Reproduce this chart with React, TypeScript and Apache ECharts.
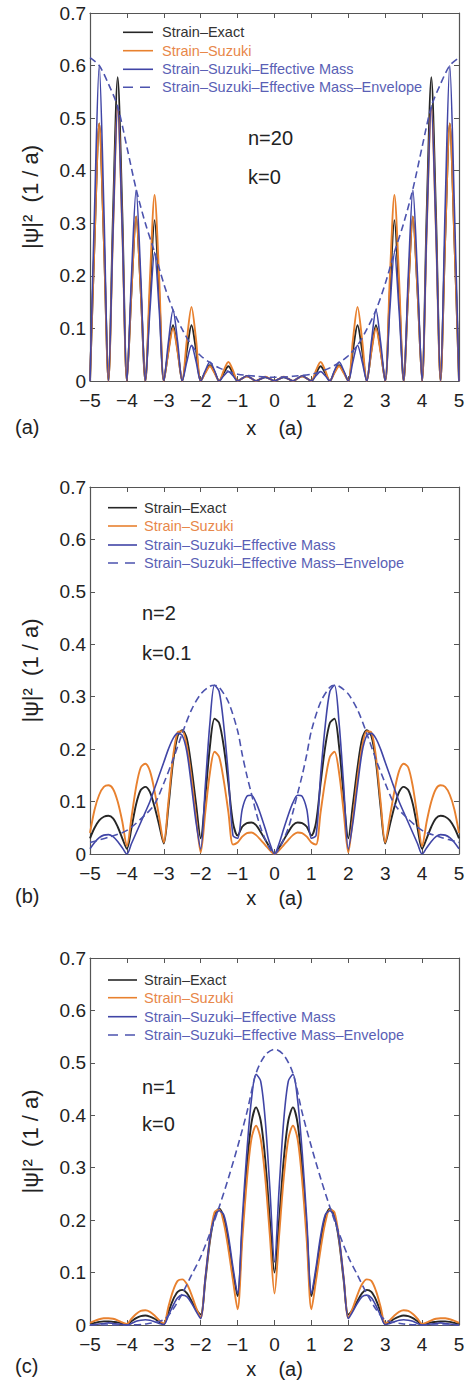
import React, { useEffect, useRef } from "react";
import * as echarts from "echarts";

// ---------- shared x grid (x in units of a) ----------
const X_GRID = [
  -5, -4.875, -4.75, -4.625, -4.5, -4.375, -4.25, -4.125, -4, -3.875, -3.75, -3.625, -3.5, -3.375, -3.25, -3.125,
  -3, -2.875, -2.75, -2.625, -2.5, -2.375, -2.25, -2.125, -2, -1.875, -1.75, -1.625, -1.5, -1.375, -1.25, -1.125,
  -1, -0.875, -0.75, -0.625, -0.5, -0.375, -0.25, -0.125, 0, 0.125, 0.25, 0.375, 0.5, 0.625, 0.75, 0.875,
  1, 1.125, 1.25, 1.375, 1.5, 1.625, 1.75, 1.875, 2, 2.125, 2.25, 2.375, 2.5, 2.625, 2.75, 2.875,
  3, 3.125, 3.25, 3.375, 3.5, 3.625, 3.75, 3.875, 4, 4.125, 4.25, 4.375, 4.5, 4.625, 4.75, 4.875, 5,
];

// ---------- panel (a): n=20, k=0 ----------
const A_EXACT = [
  0, 0.27, 0.49, 0.27, 0, 0.32, 0.578, 0.32, 0, 0.172, 0.313, 0.172, 0, 0.168, 0.306, 0.168,
  0, 0.058, 0.106, 0.058, 0, 0.058, 0.106, 0.058, 0, 0.017, 0.03, 0.017, 0, 0.015, 0.028, 0.015,
  0, 0.005, 0.009, 0.005, 0, 0.004, 0.007, 0.004, 0, 0.004, 0.007, 0.004, 0, 0.005, 0.009, 0.005,
  0, 0.015, 0.028, 0.015, 0, 0.017, 0.03, 0.017, 0, 0.058, 0.106, 0.058, 0, 0.058, 0.106, 0.058,
  0, 0.168, 0.306, 0.168, 0, 0.172, 0.313, 0.172, 0, 0.32, 0.578, 0.32, 0, 0.27, 0.49, 0.27, 0,
];
const A_SUZUKI = [
  0, 0.27, 0.49, 0.27, 0, 0.286, 0.52, 0.286, 0, 0.172, 0.313, 0.172, 0, 0.195, 0.354, 0.195,
  0, 0.055, 0.1, 0.055, 0, 0.078, 0.141, 0.078, 0, 0.015, 0.028, 0.015, 0, 0.02, 0.036, 0.02,
  0, 0.005, 0.009, 0.005, 0, 0.004, 0.008, 0.004, 0, 0.004, 0.008, 0.004, 0, 0.005, 0.009, 0.005,
  0, 0.02, 0.036, 0.02, 0, 0.015, 0.028, 0.015, 0, 0.078, 0.141, 0.078, 0, 0.055, 0.1, 0.055,
  0, 0.195, 0.354, 0.195, 0, 0.172, 0.313, 0.172, 0, 0.286, 0.52, 0.286, 0, 0.27, 0.49, 0.27, 0,
];
const A_EFFMASS = [
  0, 0.33, 0.6, 0.33, 0, 0.288, 0.524, 0.288, 0, 0.2, 0.363, 0.2, 0, 0.135, 0.245, 0.135,
  0, 0.074, 0.135, 0.074, 0, 0.037, 0.068, 0.037, 0, 0.02, 0.036, 0.02, 0, 0.01, 0.018, 0.01,
  0, 0.005, 0.01, 0.005, 0, 0.004, 0.007, 0.004, 0, 0.004, 0.007, 0.004, 0, 0.005, 0.01, 0.005,
  0, 0.01, 0.018, 0.01, 0, 0.02, 0.036, 0.02, 0, 0.037, 0.068, 0.037, 0, 0.074, 0.135, 0.074,
  0, 0.135, 0.245, 0.135, 0, 0.2, 0.363, 0.2, 0, 0.288, 0.524, 0.288, 0, 0.33, 0.6, 0.33, 0,
];
const A_ENV_X = [
  -5, -4.75, -4.5, -4.25, -4, -3.75, -3.5, -3.25, -3, -2.75, -2.5, -2.25, -2, -1.75, -1.5, -1.25, -1, -0.5, 0,
  0.5, 1, 1.25, 1.5, 1.75, 2, 2.25, 2.5, 2.75, 3, 3.25, 3.5, 3.75, 4, 4.25, 4.5, 4.75, 5,
];
const A_ENVELOPE = [
  0.615, 0.6, 0.565, 0.522, 0.445, 0.365, 0.3, 0.245, 0.185, 0.135, 0.098, 0.068, 0.048, 0.035, 0.025, 0.018, 0.013, 0.009, 0.007,
  0.009, 0.013, 0.018, 0.025, 0.035, 0.048, 0.068, 0.098, 0.135, 0.185, 0.245, 0.3, 0.365, 0.445, 0.522, 0.565, 0.6, 0.615,
];

// ---------- panel (b): n=2, k=0.1 ----------
const B_EXACT = [
  0.03, 0.05, 0.064, 0.071, 0.073, 0.068, 0.052, 0.03, 0.01, 0.05, 0.095, 0.122, 0.128, 0.118, 0.09, 0.055,
  0.02, 0.09, 0.175, 0.225, 0.236, 0.22, 0.165, 0.095, 0.03, 0.11, 0.205, 0.258, 0.25, 0.205, 0.135, 0.06,
  0.035, 0.052, 0.059, 0.06, 0.055, 0.042, 0.027, 0.012, 0, 0.012, 0.027, 0.042, 0.055, 0.06, 0.059, 0.052,
  0.035, 0.06, 0.135, 0.205, 0.25, 0.258, 0.205, 0.11, 0.03, 0.095, 0.165, 0.22, 0.236, 0.225, 0.175, 0.09,
  0.02, 0.055, 0.09, 0.118, 0.128, 0.122, 0.095, 0.05, 0.01, 0.03, 0.052, 0.068, 0.073, 0.071, 0.064, 0.05, 0.03,
];
const B_SUZUKI = [
  0.04, 0.085, 0.113, 0.128, 0.131, 0.124, 0.1, 0.062, 0.015, 0.07, 0.128, 0.165, 0.172, 0.158, 0.12, 0.07,
  0.022, 0.1, 0.185, 0.232, 0.234, 0.205, 0.145, 0.07, 0.003, 0.08, 0.155, 0.195, 0.185, 0.14, 0.08, 0.018,
  0.022, 0.033, 0.04, 0.041, 0.036, 0.027, 0.017, 0.007, 0, 0.007, 0.017, 0.027, 0.036, 0.041, 0.04, 0.033,
  0.022, 0.018, 0.08, 0.14, 0.185, 0.195, 0.155, 0.08, 0.003, 0.07, 0.145, 0.205, 0.234, 0.232, 0.185, 0.1,
  0.022, 0.07, 0.12, 0.158, 0.172, 0.165, 0.128, 0.07, 0.015, 0.062, 0.1, 0.124, 0.131, 0.128, 0.113, 0.085, 0.04,
];
const B_EFFMASS = [
  0.01, 0.022, 0.031, 0.036, 0.037, 0.033, 0.024, 0.012, 0, 0.02, 0.04, 0.06, 0.08, 0.1, 0.125, 0.15,
  0.175, 0.2, 0.22, 0.23, 0.226, 0.195, 0.13, 0.06, 0.01, 0.13, 0.25, 0.322, 0.31, 0.245, 0.15, 0.035,
  0.03, 0.085, 0.11, 0.112, 0.098, 0.075, 0.048, 0.02, 0, 0.02, 0.048, 0.075, 0.098, 0.112, 0.11, 0.085,
  0.03, 0.035, 0.15, 0.245, 0.31, 0.322, 0.25, 0.13, 0.01, 0.06, 0.13, 0.195, 0.226, 0.23, 0.22, 0.2,
  0.175, 0.15, 0.125, 0.1, 0.08, 0.06, 0.04, 0.02, 0, 0.012, 0.024, 0.033, 0.037, 0.036, 0.031, 0.022, 0.01,
];
const B_ENV_X = [
  -5, -4.5, -4, -3.5, -3.25, -3, -2.75, -2.5, -2.25, -2, -1.75, -1.625, -1.5, -1.25, -1, -0.875, -0.75, -0.625, -0.5,
  -0.375, -0.25, -0.125, 0, 0.125, 0.25, 0.375, 0.5, 0.625, 0.75, 0.875, 1, 1.25, 1.5, 1.625, 1.75, 2, 2.25, 2.5,
  2.75, 3, 3.25, 3.5, 4, 4.5, 5,
];
const B_ENVELOPE = [
  0.022, 0.032, 0.045, 0.075, 0.095, 0.135, 0.18, 0.23, 0.275, 0.305, 0.32, 0.322, 0.318, 0.29, 0.235, 0.19, 0.15, 0.115, 0.08,
  0.05, 0.028, 0.01, 0, 0.01, 0.028, 0.05, 0.08, 0.115, 0.15, 0.19, 0.235, 0.29, 0.318, 0.322, 0.32, 0.305, 0.275, 0.23,
  0.18, 0.135, 0.095, 0.075, 0.045, 0.032, 0.022,
];

// ---------- panel (c): n=1, k=0 ----------
const C_EXACT = [
  0.002, 0.004, 0.006, 0.007, 0.007, 0.006, 0.005, 0.003, 0.001, 0.007, 0.013, 0.017, 0.018, 0.016, 0.012, 0.006,
  0.002, 0.025, 0.048, 0.063, 0.067, 0.061, 0.046, 0.03, 0.02, 0.085, 0.16, 0.208, 0.222, 0.205, 0.16, 0.1,
  0.055, 0.18, 0.3, 0.385, 0.415, 0.39, 0.315, 0.2, 0.1, 0.2, 0.315, 0.39, 0.415, 0.385, 0.3, 0.18,
  0.055, 0.1, 0.16, 0.205, 0.222, 0.208, 0.16, 0.085, 0.02, 0.03, 0.046, 0.061, 0.067, 0.063, 0.048, 0.025,
  0.002, 0.006, 0.012, 0.016, 0.018, 0.017, 0.013, 0.007, 0.001, 0.003, 0.005, 0.006, 0.007, 0.007, 0.006, 0.004, 0.002,
];
const C_SUZUKI = [
  0.004, 0.008, 0.011, 0.013, 0.013, 0.012, 0.009, 0.005, 0.002, 0.012, 0.021, 0.027, 0.028, 0.025, 0.018, 0.009,
  0.003, 0.035, 0.065, 0.084, 0.087, 0.078, 0.058, 0.033, 0.014, 0.09, 0.165, 0.215, 0.22, 0.195, 0.145, 0.085,
  0.03, 0.16, 0.275, 0.355, 0.38, 0.355, 0.28, 0.17, 0.06, 0.17, 0.28, 0.355, 0.38, 0.355, 0.275, 0.16,
  0.03, 0.085, 0.145, 0.195, 0.22, 0.215, 0.165, 0.09, 0.014, 0.033, 0.058, 0.078, 0.087, 0.084, 0.065, 0.035,
  0.003, 0.009, 0.018, 0.025, 0.028, 0.027, 0.021, 0.012, 0.002, 0.005, 0.009, 0.012, 0.013, 0.013, 0.011, 0.008, 0.004,
];
const C_EFFMASS = [
  0, 0.001, 0.002, 0.003, 0.004, 0.003, 0.002, 0.001, 0, 0.003, 0.007, 0.009, 0.01, 0.009, 0.006, 0.003,
  0.001, 0.018, 0.037, 0.052, 0.057, 0.054, 0.042, 0.026, 0.012, 0.09, 0.165, 0.205, 0.218, 0.21, 0.17, 0.11,
  0.06, 0.2, 0.33, 0.43, 0.478, 0.465, 0.39, 0.26, 0.12, 0.26, 0.39, 0.465, 0.478, 0.43, 0.33, 0.2,
  0.06, 0.11, 0.17, 0.21, 0.218, 0.205, 0.165, 0.09, 0.012, 0.026, 0.042, 0.054, 0.057, 0.052, 0.037, 0.018,
  0.001, 0.003, 0.006, 0.009, 0.01, 0.009, 0.007, 0.003, 0, 0.001, 0.002, 0.003, 0.004, 0.003, 0.002, 0.001, 0,
];
const C_ENV_X = [
  -5, -4, -3.5, -3, -2.75, -2.5, -2.25, -2, -1.75, -1.5, -1.25, -1, -0.75, -0.5, -0.25, 0,
  0.25, 0.5, 0.75, 1, 1.25, 1.5, 1.75, 2, 2.25, 2.5, 2.75, 3, 3.5, 4, 5,
];
const C_ENVELOPE = [
  0, 0, 0.002, 0.01, 0.03, 0.06, 0.095, 0.13, 0.175, 0.225, 0.28, 0.34, 0.405, 0.48, 0.515, 0.526,
  0.515, 0.48, 0.405, 0.34, 0.28, 0.225, 0.175, 0.13, 0.095, 0.06, 0.03, 0.01, 0.002, 0, 0,
];

const SERIES_NAMES = [
  "Strain–Exact",
  "Strain–Suzuki",
  "Strain–Suzuki–Effective Mass",
  "Strain–Suzuki–Effective Mass–Envelope",
];
const PANEL_LETTERS = ["(a)", "(b)", "(c)"];
const N_LABELS = ["n=20", "n=2", "n=1"];
const K_LABELS = ["k=0", "k=0.1", "k=0"];
const X_NAME = "x    (a)";
const Y_NAME = "|ψ|²  (1 / a)";

// ---------- styles / layout ----------
const FONT = '"Liberation Sans", Arial, Helvetica, sans-serif';
const LINE_COLORS = ["#262626", "#e8812f", "#4045a6", "#4c53ae"];
const LINE_WIDTHS = [1.9, 1.9, 1.6, 1.6];
const TEXT_COLORS = ["#333333", "#e8874a", "#5a5fb5", "#5a5fb5"];
const AXIS_COLOR = "#555555";
const LABEL_COLOR = "#222222";

const LAYOUT = [
  { top: 13, height: 368, nameGap: 37, lx1: 123, lx2: 153, tx: 162, ly: [32.3, 50.7, 69.3, 87.3], ax: 248, ay: [138, 177], letterY: 427 },
  { top: 487, height: 367, nameGap: 34, lx1: 108, lx2: 137, tx: 144, ly: [507.7, 526, 545, 563], ax: 142, ay: [613, 653], letterY: 896 },
  { top: 958, height: 367, nameGap: 34, lx1: 108, lx2: 137, tx: 144, ly: [980, 997.7, 1016.7, 1035], ax: 142, ay: [1087, 1123.5], letterY: 1366 },
];
const GRID_LEFT = 90;
const GRID_WIDTH = 369;

const PANEL_DATA = [
  { exact: A_EXACT, suzuki: A_SUZUKI, em: A_EFFMASS, envX: A_ENV_X, env: A_ENVELOPE },
  { exact: B_EXACT, suzuki: B_SUZUKI, em: B_EFFMASS, envX: B_ENV_X, env: B_ENVELOPE },
  { exact: C_EXACT, suzuki: C_SUZUKI, em: C_EFFMASS, envX: C_ENV_X, env: C_ENVELOPE },
];

function pairs(xs: number[], ys: number[]) {
  return xs.map((x, i) => [x, ys[i]]);
}

export default function App() {
  const ref = useRef<HTMLDivElement | null>(null);

  useEffect(() => {
    if (!ref.current) return;
    const chart = echarts.init(ref.current, undefined, { renderer: "svg" });

    const grids: any[] = [];
    const xAxes: any[] = [];
    const yAxes: any[] = [];
    const series: any[] = [];
    const graphic: any[] = [];
    const axisLine = { show: true, onZero: false, lineStyle: { color: AXIS_COLOR, width: 1.2 } };
    const axisTick = { show: true, inside: true, length: 5, lineStyle: { color: AXIS_COLOR, width: 1 } };

    LAYOUT.forEach((L) => {
      grids.push({ left: GRID_LEFT, top: L.top, width: GRID_WIDTH, height: L.height, containLabel: false });
    });
    LAYOUT.forEach((L, g) => {
      xAxes.push({
        type: "value", gridIndex: g, position: "bottom", min: -5, max: 5, interval: 1,
        axisLine, axisTick, splitLine: { show: false },
        axisLabel: {
          margin: 10, fontSize: 19, lineHeight: 19, color: LABEL_COLOR, fontFamily: FONT,
          formatter: (v: number) => (v < 0 ? "−" + Math.abs(v) : String(v)),
        },
        name: X_NAME, nameLocation: "middle", nameGap: L.nameGap,
        nameTextStyle: { fontSize: 20, color: LABEL_COLOR, fontFamily: FONT },
      });
    });
    LAYOUT.forEach((L, g) => {
      xAxes.push({
        type: "value", gridIndex: g, position: "top", min: -5, max: 5, interval: 1,
        axisLine, axisTick, splitLine: { show: false }, axisLabel: { show: false },
      });
    });
    LAYOUT.forEach((L, g) => {
      yAxes.push({
        type: "value", gridIndex: g, position: "left", min: 0, max: 0.7, interval: 0.1,
        axisLine, axisTick, splitLine: { show: false },
        axisLabel: {
          margin: 4, fontSize: 19, lineHeight: 19, color: LABEL_COLOR, fontFamily: FONT,
          formatter: (v: number) => (v === 0 ? "0" : v.toFixed(1)),
        },
        name: Y_NAME, nameLocation: "middle", nameGap: 49,
        nameTextStyle: { fontSize: 22, color: LABEL_COLOR, fontFamily: FONT },
      });
    });
    LAYOUT.forEach((L, g) => {
      yAxes.push({
        type: "value", gridIndex: g, position: "right", min: 0, max: 0.7, interval: 0.1,
        axisLine, axisTick, splitLine: { show: false }, axisLabel: { show: false },
      });
    });

    PANEL_DATA.forEach((P, g) => {
      const base = { type: "line", xAxisIndex: g, yAxisIndex: g, showSymbol: false, symbol: "none", smooth: 0.3, silent: true };
      const sets = [pairs(X_GRID, P.exact), pairs(X_GRID, P.suzuki), pairs(X_GRID, P.em), pairs(P.envX, P.env)];
      sets.forEach((data, j) => {
        series.push({
          ...base, name: SERIES_NAMES[j], data,
          lineStyle: { color: LINE_COLORS[j], width: LINE_WIDTHS[j], type: j === 3 ? [7, 4] : "solid" },
          itemStyle: { color: LINE_COLORS[j] },
        });
      });
    });

    LAYOUT.forEach((L, g) => {
      SERIES_NAMES.forEach((name, j) => {
        graphic.push({
          type: "line", silent: true,
          shape: { x1: L.lx1, y1: L.ly[j], x2: L.lx2, y2: L.ly[j] },
          style: { stroke: LINE_COLORS[j], lineWidth: 1.6, lineDash: j === 3 ? [10, 7] : null },
        });
        graphic.push({
          type: "text", silent: true, x: L.tx, y: L.ly[j],
          style: {
            text: name, fill: TEXT_COLORS[j], font: `14.5px ${FONT}`,
            textAlign: "left", align: "left", textVerticalAlign: "middle", verticalAlign: "middle",
          },
        });
      });
      [N_LABELS[g], K_LABELS[g]].forEach((t, j) => {
        graphic.push({
          type: "text", silent: true, x: L.ax, y: L.ay[j],
          style: { text: t, fill: LABEL_COLOR, font: `20px ${FONT}`, textAlign: "left", align: "left", textVerticalAlign: "middle", verticalAlign: "middle" },
        });
      });
      graphic.push({
        type: "text", silent: true, x: 15, y: L.letterY,
        style: { text: PANEL_LETTERS[g], fill: LABEL_COLOR, font: `20px ${FONT}`, textAlign: "left", align: "left", textVerticalAlign: "middle", verticalAlign: "middle" },
      });
    });

    chart.setOption({
      animation: false,
      backgroundColor: "#ffffff",
      grid: grids,
      xAxis: xAxes,
      yAxis: yAxes,
      series,
      graphic,
    });

    return () => chart.dispose();
  }, []);

  return <div ref={ref} style={{ position: "absolute", left: 0, top: 0, width: 473, height: 1384 }} />;
}
